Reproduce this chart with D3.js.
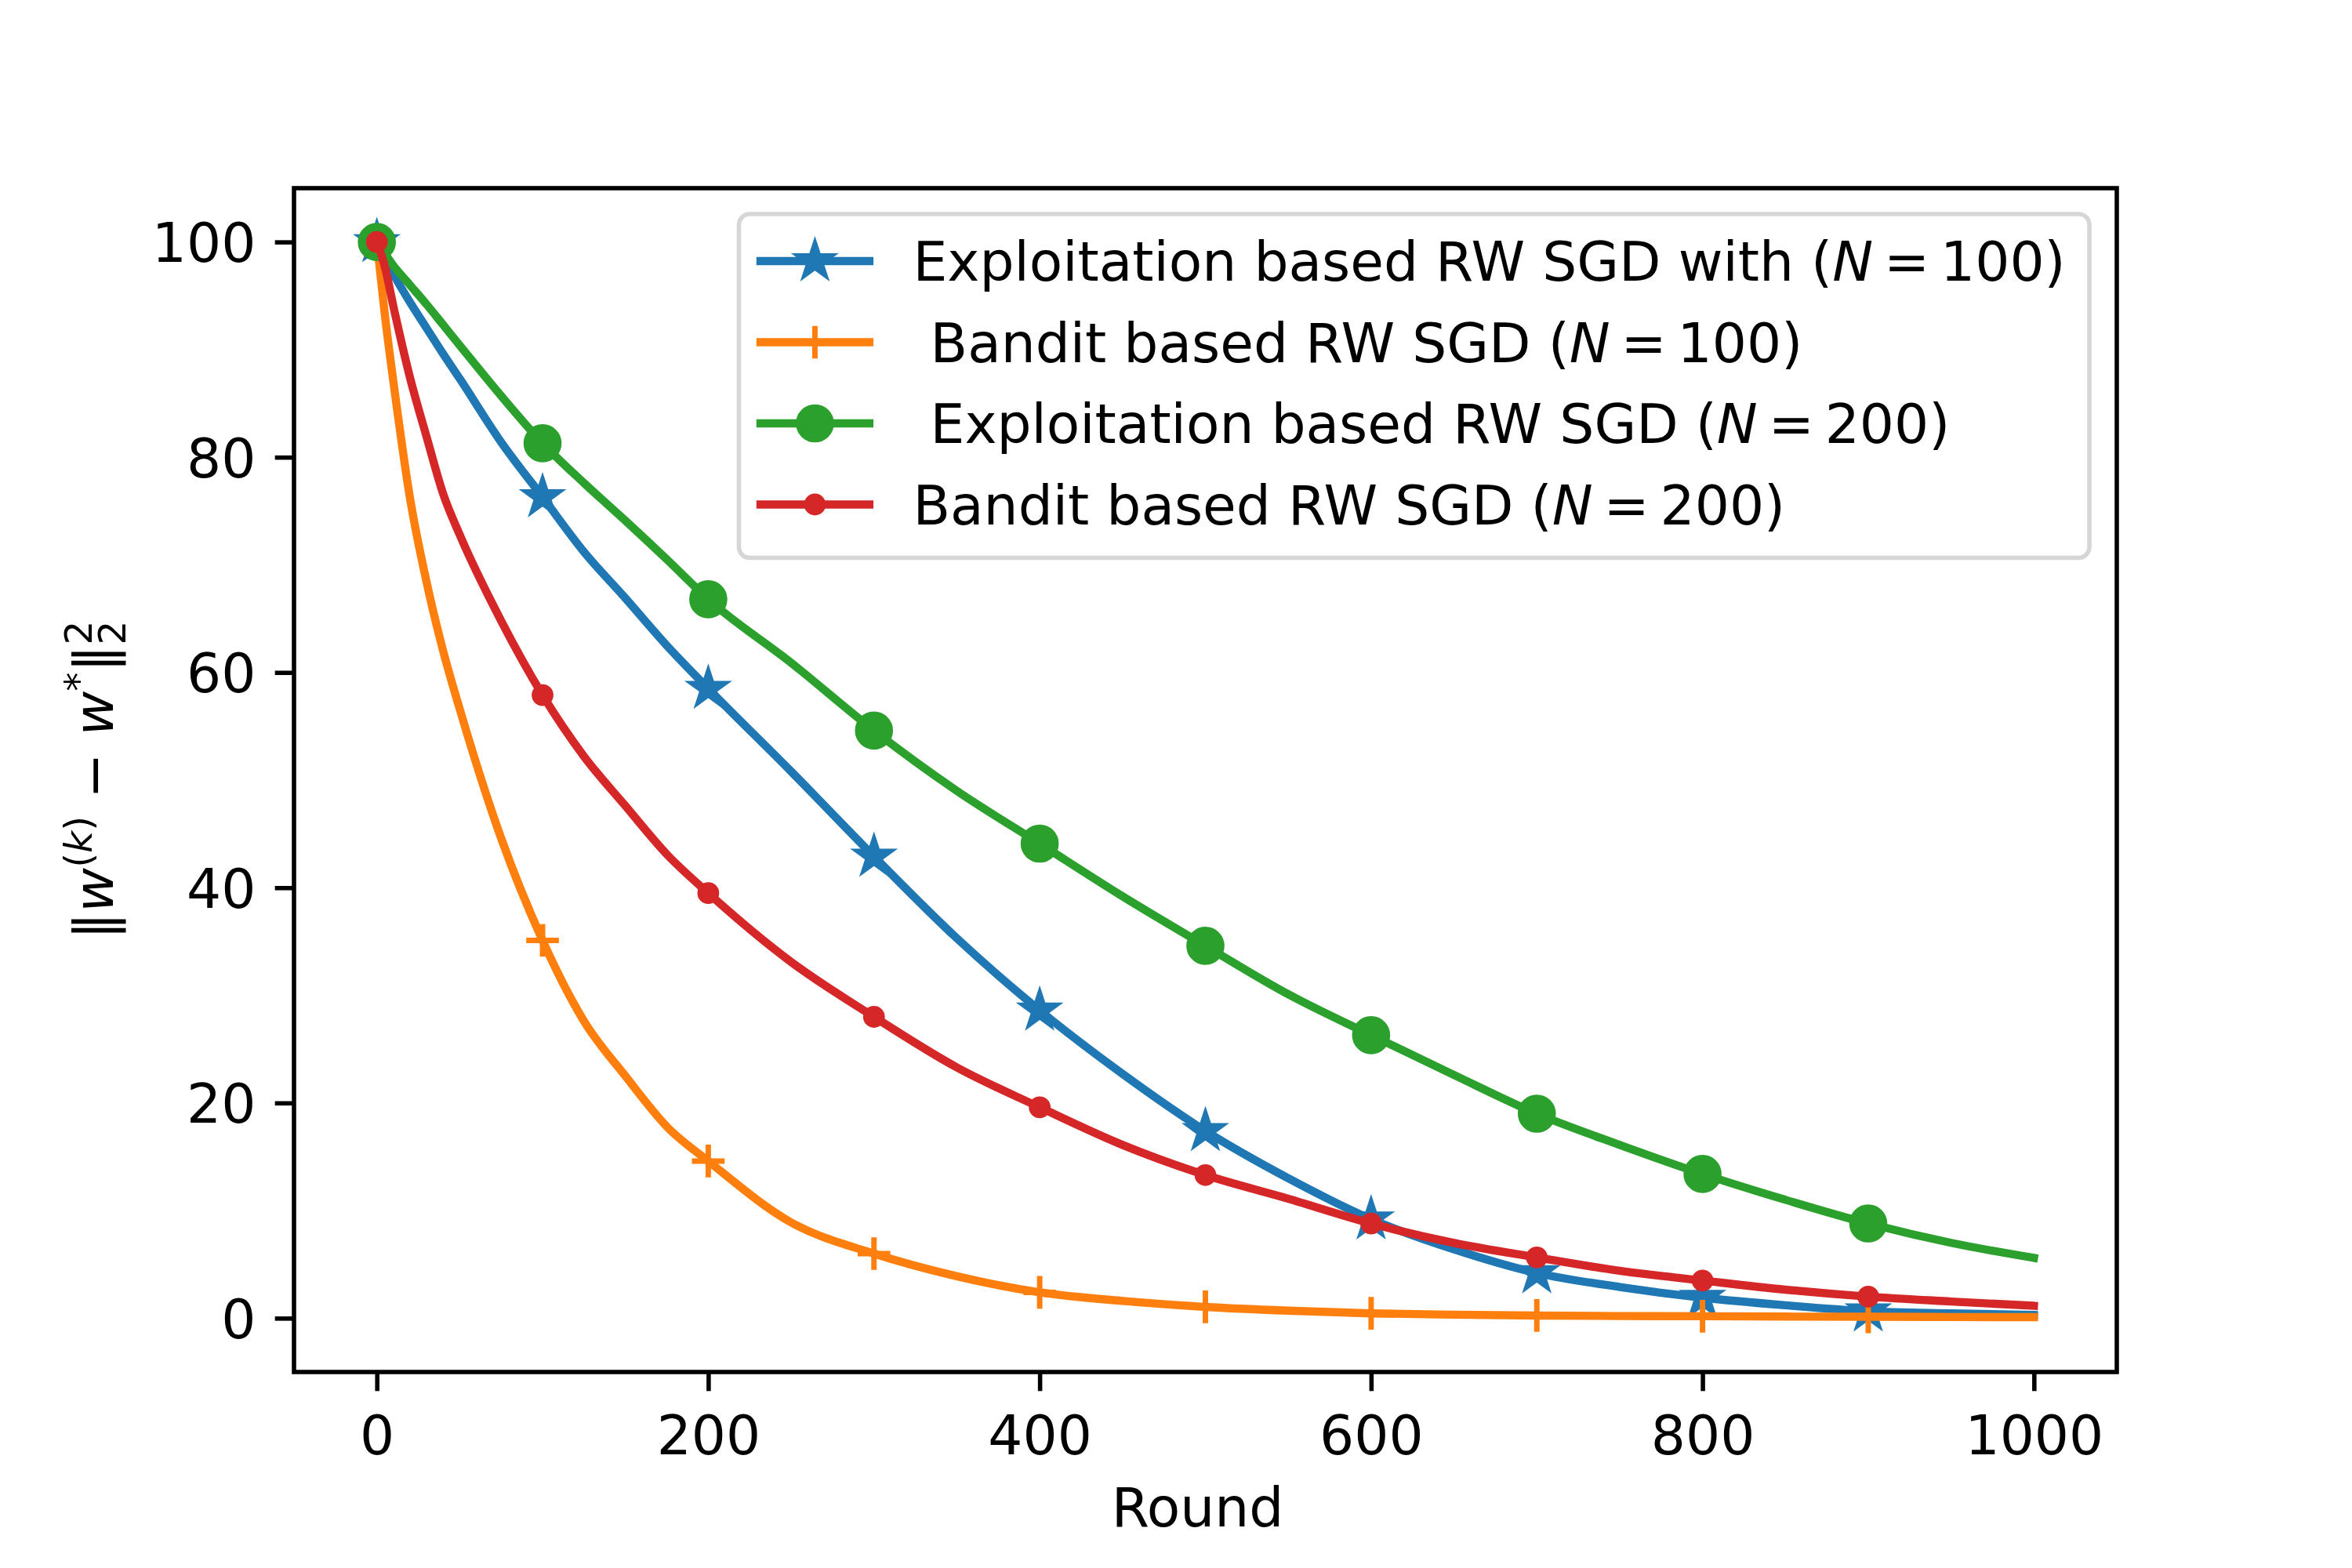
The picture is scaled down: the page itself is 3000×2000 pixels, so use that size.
<!DOCTYPE html>
<html>
<head>
<meta charset="utf-8">
<script src="https://cdn.jsdelivr.net/npm/d3@7"></script>
<style>
  body { margin: 0; background: #fff; }
  text { font-family: "DejaVu Sans", sans-serif; white-space: pre; }
</style>
</head>
<body>
<script>
var rounds = [0, 5, 10, 20, 30, 40, 50, 75, 100, 125, 150, 175, 200, 250, 300, 350, 400,
   450, 500, 550, 600, 650, 700, 750, 800, 850, 900, 950, 1000];
var exploitN100 = [100, 98.4, 97.0, 94.4, 92.0, 89.6, 87.3, 81.4, 76.3, 71.2, 66.9, 62.5, 58.5,
   50.8, 42.9, 35.3, 28.6, 22.7, 17.4, 13.0, 9.2, 6.4, 4.2, 2.9, 1.9, 1.2, 0.65, 0.45, 0.3];
var banditN100 = [100, 93.0, 87.0, 76.2, 68.4, 62.0, 56.6, 44.6, 35.1, 27.6, 22.5, 17.8, 14.6,
   8.9, 6.0, 3.9, 2.4, 1.6, 1.05, 0.7, 0.45, 0.33, 0.25, 0.2, 0.18, 0.15, 0.13, 0.11, 0.1];
var exploitN200 = [100, 98.9, 97.8, 96.0, 94.2, 92.3, 90.4, 85.7, 81.3, 77.6, 74.1, 70.5, 66.8,
   60.9, 54.6, 49.0, 44.1, 39.2, 34.6, 30.1, 26.3, 22.6, 19.0, 16.1, 13.4, 11.0, 8.8, 7.0, 5.6];
var banditN200 = [100, 97.6, 94.0, 87.4, 81.9, 76.6, 72.8, 64.8, 57.9, 52.2, 47.6, 43.1, 39.5,
   33.1, 28.0, 23.3, 19.6, 16.1, 13.3, 11.1, 8.8, 7.0, 5.65, 4.4, 3.5, 2.65, 2.0, 1.55, 1.15];
var markerRounds = [0, 100, 200, 300, 400, 500, 600, 700, 800, 900];
var xTicks = [0, 200, 400, 600, 800, 1000];
var yTicks = [0, 20, 40, 60, 80, 100];
var legendLabels = [
   "Exploitation based RW SGD with (N\u2009=\u2009100)",
   " Bandit based RW SGD (N\u2009=\u2009100)",
   " Exploitation based RW SGD (N\u2009=\u2009200)",
   "Bandit based RW SGD (N\u2009=\u2009200)"
];
var colors = ["#1f77b4", "#ff7f0e", "#2ca02c", "#d62728"];
var markers = ["star", "plus", "circle", "point"];

var width = 3000, height = 2000;
var margin = {top: 240, right: 300, bottom: 250, left: 375};
var pt = 500 / 72;          // figure was 6x4 in at 500 dpi
var fs = 10 * pt;

var svg = d3.select("body").append("svg")
   .attr("width", width)
   .attr("height", height);

svg.append("rect")
   .attr("width", width)
   .attr("height", height)
   .attr("fill", "#fff");

var x = d3.scaleLinear().domain([-50, 1050]).range([margin.left, width - margin.right]);
var y = d3.scaleLinear().domain([-5, 105]).range([height - margin.bottom, margin.top]);

var series = [exploitN100, banditN100, exploitN200, banditN200].map(function(vals, i) {
   return {
      label: legendLabels[i],
      color: colors[i],
      marker: markers[i],
      points: rounds.map(function(r, j) { return [r, vals[j]]; })
   };
});

// marker shapes (sizes in px for 6pt markers)
var ms = 6 * pt;
function markerPath(type) {
   if (type === "star") return d3.symbol(d3.symbolStar, (ms / 2) * (ms / 2) / 0.8908130915292852)();
   if (type === "circle") return d3.symbol(d3.symbolCircle, Math.PI * (ms / 2) * (ms / 2))();
   if (type === "point") return d3.symbol(d3.symbolCircle, Math.PI * (ms / 4) * (ms / 4))();
   var h = ms / 2;
   return "M" + (-h) + ",0H" + h + "M0," + (-h) + "V" + h;
}
function drawMarker(g, type, color) {
   g.append("path")
      .attr("d", markerPath(type))
      .attr("fill", type === "plus" ? "none" : color)
      .attr("stroke", color)
      .attr("stroke-width", pt)
      .attr("stroke-linejoin", "miter");
}

svg.append("clipPath").attr("id", "plotclip")
   .append("rect")
   .attr("x", margin.left).attr("y", margin.top)
   .attr("width", width - margin.left - margin.right)
   .attr("height", height - margin.top - margin.bottom);

var plot = svg.append("g").attr("clip-path", "url(#plotclip)");

var line = d3.line()
   .curve(d3.curveMonotoneX)
   .x(function(d) { return x(d[0]); })
   .y(function(d) { return y(d[1]); });

series.forEach(function(s) {
   var g = plot.append("g");
   g.append("path")
      .attr("d", line(s.points))
      .attr("fill", "none")
      .attr("stroke", s.color)
      .attr("stroke-width", 1.5 * pt)
      .attr("stroke-linejoin", "round")
      .attr("stroke-linecap", "square");
   s.points.filter(function(d) { return markerRounds.indexOf(d[0]) >= 0; })
      .forEach(function(d) {
         var m = g.append("g").attr("transform", "translate(" + x(d[0]) + "," + y(d[1]) + ")");
         drawMarker(m, s.marker, s.color);
      });
});

// axes
var xAxis = svg.append("g")
   .attr("transform", "translate(0," + (height - margin.bottom) + ")")
   .call(d3.axisBottom(x).tickValues(xTicks).tickFormat(d3.format("d"))
      .tickSize(3.5 * pt).tickSizeOuter(0).tickPadding(31));
var yAxis = svg.append("g")
   .attr("transform", "translate(" + margin.left + ",0)")
   .call(d3.axisLeft(y).tickValues(yTicks).tickFormat(d3.format("d"))
      .tickSize(3.5 * pt).tickSizeOuter(0).tickPadding(3.5 * pt));

[xAxis, yAxis].forEach(function(a) {
   a.select(".domain").remove();
   a.selectAll(".tick line").attr("stroke", "#000").attr("stroke-width", 0.8 * pt);
   a.selectAll(".tick text")
      .attr("fill", "#000")
      .style("font-size", fs + "px")
      .style("font-family", "'DejaVu Sans', sans-serif");
});
yAxis.selectAll(".tick text").attr("dy", "0.36em");

svg.append("rect")
   .attr("x", margin.left).attr("y", margin.top)
   .attr("width", width - margin.left - margin.right)
   .attr("height", height - margin.top - margin.bottom)
   .attr("fill", "none")
   .attr("stroke", "#000")
   .attr("stroke-width", 0.8 * pt);

// axis labels
svg.append("text")
   .attr("x", (margin.left + width - margin.right) / 2 - 10)
   .attr("y", 1947)
   .attr("text-anchor", "middle")
   .style("font-size", fs + "px")
   .text("Round");

var sub = 0.7 * fs;
var yl = svg.append("text")
   .attr("transform", "translate(144," + ((margin.top + height - margin.bottom) / 2) + ") rotate(-90)")
   .attr("text-anchor", "middle")
   .style("font-size", fs + "px");
yl.append("tspan").text("\u2016");
yl.append("tspan").style("font-style", "italic").text("w");
yl.append("tspan").attr("dy", -27).style("font-size", sub + "px").text("(");
yl.append("tspan").style("font-size", sub + "px").style("font-style", "italic").text("k");
yl.append("tspan").style("font-size", sub + "px").text(")");
yl.append("tspan").attr("dy", 27).text(" \u2212 ");
yl.append("tspan").style("font-style", "italic").text("w");
yl.append("tspan").attr("dy", -27).style("font-size", sub + "px").text("*");
yl.append("tspan").attr("dy", 27).text("\u2016");
yl.append("tspan").attr("dy", -27).style("font-size", sub + "px").text("2");
yl.append("tspan").attr("dx", -0.636 * sub).attr("dy", 43).style("font-size", sub + "px").text("2");

// legend
var lg = svg.append("g");
lg.append("rect")
   .attr("x", 942.5).attr("y", 273)
   .attr("width", 1722.5).attr("height", 438.5)
   .attr("rx", 0.2 * fs).attr("ry", 0.2 * fs)
   .attr("fill", "#fff").attr("fill-opacity", 0.8)
   .attr("stroke", "#d6d6d6")
   .attr("stroke-width", 0.8 * pt);

var rowStep = 103.5;
series.forEach(function(s, i) {
   var cy = 333 + i * rowStep;
   var row = lg.append("g");
   row.append("line")
      .attr("x1", 970).attr("x2", 970 + 2 * fs)
      .attr("y1", cy).attr("y2", cy)
      .attr("stroke", s.color)
      .attr("stroke-width", 1.5 * pt)
      .attr("stroke-linecap", "square");
   drawMarker(row.append("g").attr("transform", "translate(" + (970 + fs) + "," + cy + ")"), s.marker, s.color);
   var parts = s.label.split("N");
   var t = row.append("text")
      .attr("x", 970 + 2.8 * fs)
      .attr("y", cy + 25)
      .style("font-size", fs + "px");
   t.append("tspan").text(parts[0]);
   t.append("tspan").style("font-style", "italic").text("N");
   t.append("tspan").text(parts[1]);
});
</script>
</body>
</html>
